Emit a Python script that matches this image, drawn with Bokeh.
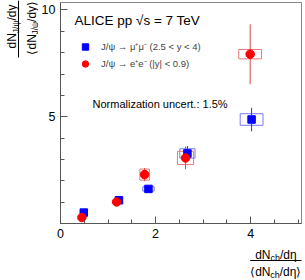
import math
from bokeh.plotting import figure
from bokeh.layouts import row, column
from bokeh.models import (FixedTicker, Label, Legend, LegendItem, Arrow,
                          ColumnDataSource, Range1d)
from bokeh.embed import file_html
from bokeh.resources import INLINE

# J/psi -> mu+ mu- (2.5 < y < 4)
mm_x = [0.49, 1.23, 1.85, 2.67, 4.02]
mm_y = [0.51, 1.09, 1.62, 3.28, 4.87]
mm_stat = [0.05, 0.07, 0.08, 0.35, 0.55]
mm_sys_x = [0.05, 0.07, 0.12, 0.16, 0.24]
mm_sys_y = [0.03, 0.06, 0.10, 0.22, 0.27]

# J/psi -> e+ e- (|y| < 0.9)
ee_x = [0.45, 1.18, 1.77, 2.63, 3.99]
ee_y = [0.28, 1.01, 2.29, 3.07, 7.93]
ee_stat = [0.05, 0.10, 0.31, 0.53, 1.40]
ee_sys_x = [0.05, 0.07, 0.10, 0.17, 0.24]
ee_sys_y = [0.04, 0.08, 0.26, 0.31, 0.22]

x_major = [0, 2, 4]
x_minor = [0.5 * i for i in range(11)]
y_major = [5, 10]
y_minor = list(range(0, 11))

FONT = "Liberation Sans"


def make_src(x, y, stat, sx, sy):
    return ColumnDataSource(dict(
        x=x, y=y,
        lo=[a - b for a, b in zip(y, stat)],
        hi=[a + b for a, b in zip(y, stat)],
        w=[2 * v for v in sx],
        h=[2 * v for v in sy],
    ))


mm = make_src(mm_x, mm_y, mm_stat, mm_sys_x, mm_sys_y)
ee = make_src(ee_x, ee_y, ee_stat, ee_sys_x, ee_sys_y)

YLAB_W = 38
MAIN_W = 305 - YLAB_W
MAIN_H = 245
XLAB_H = 280 - MAIN_H
BL, BR = 20, 4          # main frame: page x 58 .. 301

p = figure(width=MAIN_W, height=MAIN_H, output_backend="svg", toolbar_location=None,
           x_range=Range1d(0, 5.07), y_range=Range1d(0, 10.35),
           min_border_left=BL, min_border_right=BR, min_border_top=2,
           min_border_bottom=22)
p.background_fill_color = "white"
p.border_fill_color = "white"
p.grid.visible = False
p.outline_line_color = "#888888"

p.xaxis.ticker = FixedTicker(ticks=x_major, minor_ticks=x_minor)
p.yaxis.ticker = FixedTicker(ticks=y_major, minor_ticks=y_minor)
for ax in (p.xaxis[0], p.yaxis[0]):
    ax.axis_line_color = "#555555"
    ax.major_tick_line_color = "#555555"
    ax.minor_tick_line_color = "#555555"
    ax.major_tick_in = 7
    ax.major_tick_out = 0
    ax.minor_tick_in = 4
    ax.minor_tick_out = 0
    ax.major_label_text_font = FONT
    ax.major_label_text_font_size = "12.5px"
    ax.major_label_text_color = "black"
    ax.major_label_standoff = 5

# systematic boxes
p.rect(x="x", y="y", width="w", height="h", source=mm, fill_color=None,
       line_color="#7777ff", line_width=1)
p.rect(x="x", y="y", width="w", height="h", source=ee, fill_color=None,
       line_color="#f07777", line_width=1)
# statistical error bars
p.segment(x0="x", y0="lo", x1="x", y1="hi", source=mm, line_color="#3333cc",
          line_width=1)
p.segment(x0="x", y0="lo", x1="x", y1="hi", source=ee, line_color="#dd4444",
          line_width=1)
# markers
r_mm = p.scatter(x="x", y="y", source=mm, marker="square", size=7.5,
                 fill_color="#0000ff", line_color="#0000ff")
r_ee = p.scatter(x="x", y="y", source=ee, marker="circle", size=8.5,
                 fill_color="#ff0000", line_color="#ff0000")

legend = Legend(items=[
    LegendItem(label="J/\u03c8 \u2192 \u03bc\u207a\u03bc\u207b (2.5 < y < 4)", renderers=[r_mm]),
    LegendItem(label="J/\u03c8 \u2192 e\u207ae\u207b (|y| < 0.9)", renderers=[r_ee]),
], location=(17, 151), glyph_width=16, glyph_height=17, label_height=17,
    label_standoff=8, spacing=0, padding=0, margin=0,
    border_line_color=None, background_fill_alpha=0,
    label_text_font=FONT, label_text_font_size="9.5px")
p.add_layout(legend)


def lab(fig, text, sx, sy, size, angle=0.0, baseline="alphabetic", align="left"):
    fig.add_layout(Label(x=sx, y=sy, x_units="screen", y_units="screen",
                         text=text, angle=angle, text_font=FONT,
                         text_font_size=size, text_align=align,
                         text_baseline=baseline, text_color="black"))


lab(p, "ALICE pp \u221as = 7 TeV", 14, 203, "13.5px", baseline="middle")
lab(p, "Normalization uncert.: 1.5%", 32, 120, "11px", baseline="middle")


def aux(w, h, bl=0, br=0):
    f = figure(width=w, height=h, output_backend="svg", toolbar_location=None,
               x_axis_type=None, y_axis_type=None, min_border=0,
               min_border_left=bl, min_border_right=br,
               min_border_top=0, min_border_bottom=0,
               x_range=Range1d(0, w), y_range=Range1d(0, h))
    f.outline_line_color = None
    f.background_fill_color = "white"
    f.border_fill_color = "white"
    return f


# y-axis title (rotated fraction), screen coords: sy = 280 - page_y
yl = aux(YLAB_W, 280)
R = math.pi / 2
lab(yl, "dN", 11.5, 280 - 48, "12px", angle=R)
lab(yl, "J/\u03c8", 15, 280 - 32.7, "8.5px", angle=R)
lab(yl, "/dy", 11.5, 280 - 20.1, "12px", angle=R)
lab(yl, "\u27e8dN", 31, 280 - 54, "12px", angle=R)
lab(yl, "J/\u03c8", 34, 280 - 34, "8.5px", angle=R)
lab(yl, "/dy\u27e9", 31, 280 - 21.4, "12px", angle=R)
yl.add_layout(Arrow(end=None, x_start=18, y_start=280, x_end=18, y_end=280 - 57,
                    start_units="screen", end_units="screen",
                    line_color="black", line_width=1))

# x-axis title (fraction); frame starts at page x 58: sx = page_x - 58, sy = 280 - page_y
xl = aux(MAIN_W, XLAB_H, BL, BR)
X0 = YLAB_W + BL
lab(xl, "dN", 252.7 - X0, 280 - 254, "12px")
lab(xl, "ch", 268 - X0, 280 - 257, "9px")
lab(xl, "/d\u03b7", 277.5 - X0, 280 - 254, "12px")
lab(xl, "\u27e8dN", 247.7 - X0, 280 - 271.5, "12px")
lab(xl, "ch", 267.7 - X0, 280 - 274.5, "9px")
lab(xl, "/d\u03b7\u27e9", 277.2 - X0, 280 - 271.5, "12px")
xl.add_layout(Arrow(end=None, x_start=247.7 - X0, y_start=280 - 260, x_end=301 - X0,
                    y_end=280 - 260, start_units="screen", end_units="screen",
                    line_color="black", line_width=1))

layout = row(yl, column(p, xl))
open("out.html", "w").write(file_html(layout, INLINE))
